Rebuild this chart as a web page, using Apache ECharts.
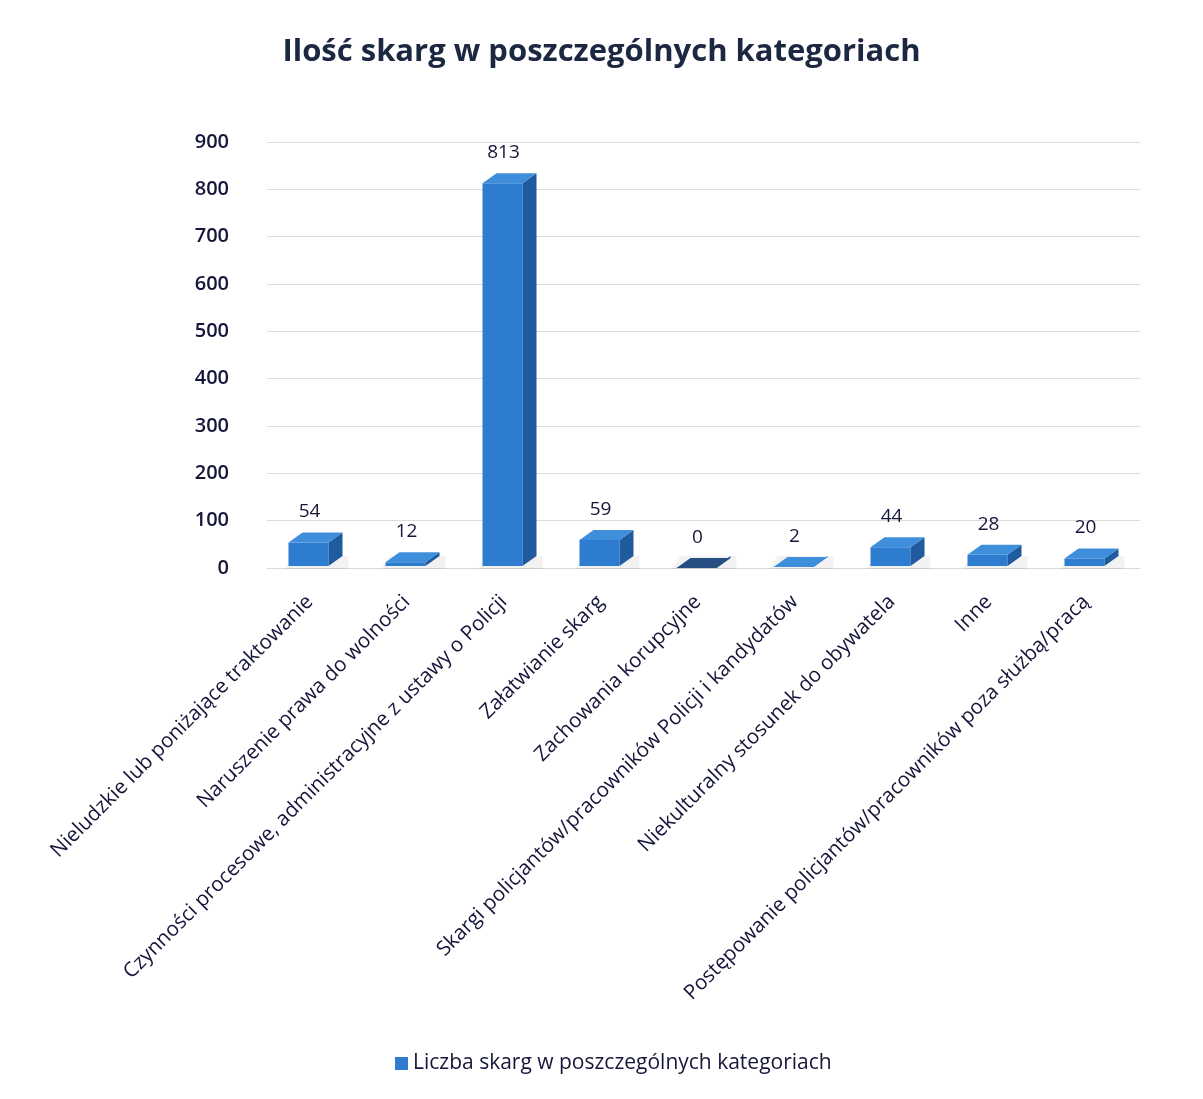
<!DOCTYPE html>
<html>
<head>
<meta charset="utf-8">
<script src="https://cdn.jsdelivr.net/npm/echarts@6/dist/echarts.min.js"></script>
<style>html,body{margin:0;padding:0;background:#fff;}#c{width:1203px;height:1099px;}</style>
</head>
<body>
<div id="c"></div>
<script>
const categories = [
  'Nieludzkie lub poniżające traktowanie',
  'Naruszenie prawa do wolności',
  'Czynności procesowe, administracyjne z ustawy o Policji',
  'Załatwianie skarg',
  'Zachowania korupcyjne',
  'Skargi policjantów/pracowników Policji i kandydatów',
  'Niekulturalny stosunek do obywatela',
  'Inne',
  'Postępowanie policjantów/pracowników poza służbą/pracą'
];
const values = [54, 12, 813, 59, 0, 2, 44, 28, 20];
const yTicks = [0, 100, 200, 300, 400, 500, 600, 700, 800, 900];
const seriesName = 'Liczba skarg w poszczególnych kategoriach';
const titleText = 'Ilość skarg w poszczególnych kategoriach';

const chart = echarts.init(document.getElementById('c'));
const FONT = 'Open Sans';
const TXT = '#15163a';
chart.setOption({
  backgroundColor: '#fff',
  animation: false,
  title: {
    text: titleText,
    left: 'center',
    top: 32,
    textStyle: { fontFamily: FONT, fontSize: 31, fontWeight: 'bold', color: '#1c2742' }
  },
  legend: {
    data: [{ name: seriesName, icon: 'rect' }],
    bottom: 20,
    left: 390,
    itemWidth: 13,
    itemHeight: 13,
    itemGap: 5,
    textStyle: { fontFamily: FONT, fontSize: 21, color: TXT }
  },
  grid: { left: 267, right: 63, top: 142, bottom: 531 },
  xAxis: {
    type: 'category',
    data: categories,
    axisLine: { show: true, lineStyle: { color: '#d9d9d9' } },
    axisTick: { show: false },
    axisLabel: {
      interval: 0,
      rotate: 45,
      margin: 25,
      padding: [0, 8, 0, 0],
      fontFamily: FONT,
      fontSize: 20.5,
      color: TXT
    }
  },
  yAxis: {
    type: 'value',
    min: yTicks[0],
    max: yTicks[yTicks.length - 1],
    interval: 100,
    axisLine: { show: false },
    axisTick: { show: false },
    splitLine: { lineStyle: { color: '#dcdcdc' } },
    axisLabel: { margin: 38, fontFamily: FONT, fontSize: 20, fontWeight: 600, color: TXT }
  },
  series: [{
    name: seriesName,
    type: 'custom',
    itemStyle: { color: '#2f7bcf' },
    data: values.map((v, i) => [i, v]),
    encode: { x: 0, y: 1 },
    renderItem: function (params, api) {
      const idx = api.value(0), v = api.value(1);
      const base = api.coord([idx, 0]);
      const top = api.coord([idx, v]);
      const w = 40, dx = 14, dy = 10;
      const c = base[0];
      const fl = c - 27, fr = fl + w;
      const by = base[1] - 2, ty = top[1];
      const children = [
        { type: 'polygon', shape: { points: [[fl - 4, by + 3], [fr + dx + 6, by + 3], [fr + dx + 6, by - dy], [fl + 4, by - dy]] },
          style: { fill: 'rgba(0,0,0,0.05)' } },
        { type: 'rect', shape: { x: fl, y: ty, width: w, height: Math.max(0, by - ty) },
          style: { fill: '#2e7ccf' } },
        { type: 'polygon', shape: { points: [[fr, ty], [fr + dx, ty - dy], [fr + dx, by - dy], [fr, by]] },
          style: { fill: '#1f5b9e' } },
        { type: 'polygon', shape: { points: [[fl, ty], [fr, ty], [fr + dx, ty - dy], [fl + dx, ty - dy]] },
          style: { fill: v === 0 ? '#254f80' : '#3f8edb' } },
        { type: 'text', style: { text: String(v), x: c - 6, y: ty - dy - 11, align: 'center', verticalAlign: 'bottom',
            fontFamily: FONT, fontSize: 19, fill: TXT } }
      ];
      return { type: 'group', children: children };
    }
  }]
});
</script>
</body>
</html>
